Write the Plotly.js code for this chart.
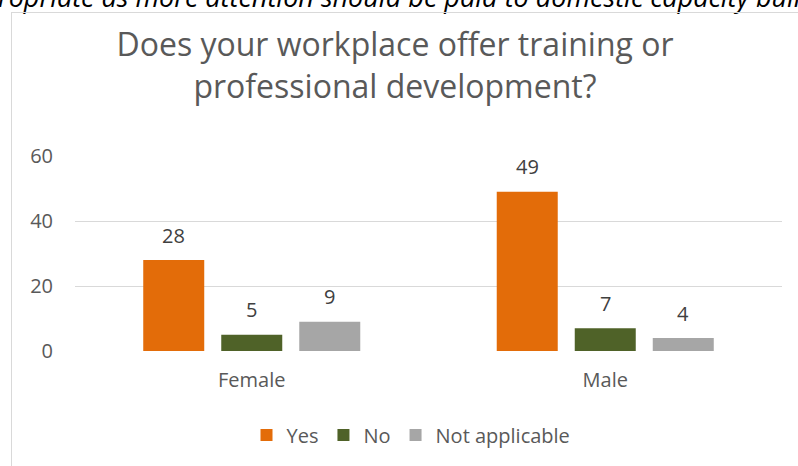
<!DOCTYPE html>
<html>
<head>
<meta charset="utf-8">
<script src="https://cdn.plot.ly/plotly-3.0.1.min.js"></script>
<style>
html,body{margin:0;padding:0;background:#fff;overflow:hidden;}
#wrap{position:relative;width:798px;height:466px;}
#chart{position:absolute;left:0;top:0;width:798px;height:466px;}
#frame{position:absolute;left:11px;top:12px;width:900px;height:600px;border-left:1px solid #d9d9d9;border-top:1px solid #d9d9d9;pointer-events:none;}
</style>
</head>
<body>
<div id="wrap"><div id="chart"></div><div id="frame"></div></div>
<script>
const categories = ["Female", "Male"];
const seriesNames = ["Yes", "No", "Not applicable"];
const yesValues = [28, 49];
const noValues = [5, 7];
const naValues = [9, 4];
const yTicks = [0, 20, 40, 60];
const titleText = "Does your workplace offer training or<br>professional development?";
const pageText = "ropriate as more attention should be paid to domestic capacity buil";

const colors = ["#E36C09", "#4F6228", "#A6A6A6"];
const allValues = [yesValues, noValues, naValues];

const traces = allValues.map((vals, i) => ({
  type: "bar",
  name: seriesNames[i],
  x: categories,
  y: vals,
  marker: {color: colors[i]},
  hoverinfo: "skip"
}));

const annotations = [];
allValues.forEach((vals, i) => {
  vals.forEach((v, j) => {
    annotations.push({
      x: categories[j], y: v, xref: "x", yref: "y",
      text: String(v), showarrow: false,
      xshift: (i - 1) * 78, yshift: 25, yanchor: "middle",
      font: {family: "Open Sans", size: 20, color: "#404040"}
    });
  });
});
annotations.push({
  xref: "paper", yref: "paper", x: (-4 - 75) / 707, y: (351 + 4) / 195,
  xanchor: "left", yanchor: "middle", showarrow: false,
  text: "<i>" + pageText + "</i>",
  font: {family: "Open Sans", size: 27, color: "#000000"}
});

const layout = {
  width: 798, height: 466,
  margin: {l: 75, r: 16, t: 156, b: 115},
  paper_bgcolor: "rgba(0,0,0,0)",
  plot_bgcolor: "rgba(0,0,0,0)",
  showlegend: true,
  barmode: "group",
  bargap: 0.338,
  bargroupgap: 0.218,
  title: {
    text: titleText,
    x: 395 / 798, xanchor: "center",
    y: 1 - 56 / 466, yanchor: "middle",
    font: {family: "Open Sans", size: 32, color: "#595959"}
  },
  xaxis: {
    type: "category",
    showgrid: false, zeroline: false, showline: false,
    ticks: "outside", ticklen: 11, tickcolor: "rgba(0,0,0,0)",
    tickfont: {family: "Open Sans", size: 20, color: "#595959"}
  },
  yaxis: {
    range: [0, 60],
    tickvals: yTicks,
    ticktext: yTicks.map(String),
    showgrid: true, gridcolor: "#d9d9d9", gridwidth: 1,
    zeroline: false, showline: false,
    ticks: "outside", ticklen: 17, tickcolor: "rgba(0,0,0,0)",
    tickfont: {family: "Open Sans", size: 20, color: "#595959"}
  },
  legend: {
    orientation: "h",
    x: (411 - 75) / 707, xanchor: "center",
    y: (351 - 435) / 195, yanchor: "middle",
    font: {family: "Open Sans", size: 20, color: "#595959"},
    itemwidth: 30, tracegroupgap: 0
  },
  annotations: annotations
};

Plotly.newPlot("chart", traces, layout, {displayModeBar: false, staticPlot: true});
</script>
</body>
</html>
